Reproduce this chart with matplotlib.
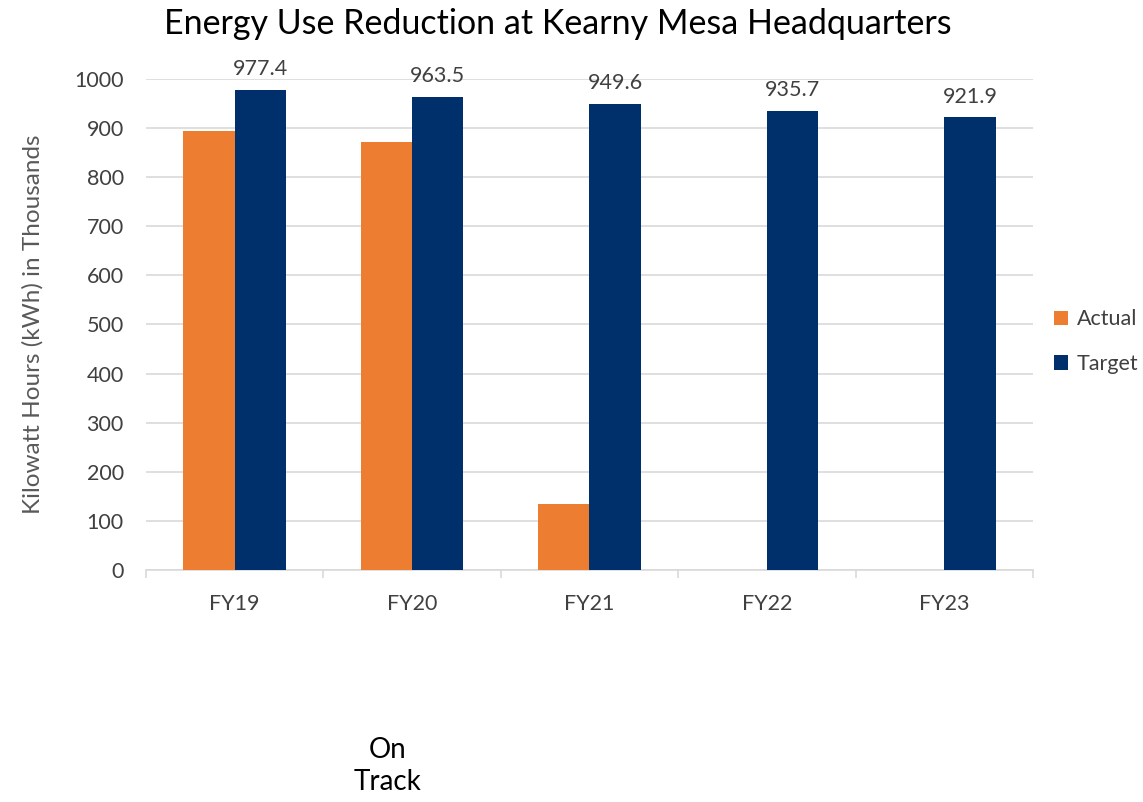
import numpy as np
import matplotlib.pyplot as plt

years = ["FY19", "FY20", "FY21", "FY22", "FY23"]
actual = [894, 872, 134, 0, 0]
target = [977.4, 963.5, 949.6, 935.7, 921.9]

plt.rcParams['font.family'] = ['Lato', 'DejaVu Sans']

fig = plt.figure(figsize=(11.43, 8.02), dpi=100)
ax = fig.add_axes([0.1277, 0.2893, 0.776, 0.6122])

x = np.arange(len(years))
w = 0.29
ax.bar(x - w/2, actual, w, color="#ED7D31", label="Actual", zorder=3)
bars = ax.bar(x + w/2, target, w, color="#00306B", label="Target", zorder=3)
for b, v in zip(bars, target):
    ax.text(b.get_x() + b.get_width()/2, v + 22, f"{v:.1f}", ha="center", va="bottom",
            fontsize=15.5, color="#404040")

ax.set_xlim(-0.5, len(years) - 0.5)
ax.set_ylim(0, 1000)
ax.set_yticks(np.arange(0, 1001, 100))
ax.yaxis.grid(True, color="#D9D9D9", linewidth=1.2, zorder=0)
ax.set_xticks(x)
ax.set_xticklabels(years)
ax.set_xticks(np.arange(-0.5, len(years)), minor=True)
ax.tick_params(axis="x", which="major", length=0, pad=17, labelsize=15.5, labelcolor="#404040")
ax.tick_params(axis="x", which="minor", length=6, color="#D9D9D9", width=1.2)
ax.tick_params(axis="y", length=0, pad=16, labelsize=15.5, labelcolor="#404040")
for s in ["top", "right", "left"]:
    ax.spines[s].set_visible(False)
ax.spines["bottom"].set_color("#D9D9D9")
ax.spines["bottom"].set_linewidth(1.2)

ax.set_ylabel("Kilowatt Hours (kWh) in Thousands", fontsize=17.5, color="#595959", labelpad=22)
fig.suptitle("Energy Use Reduction at Kearny Mesa Headquarters", x=0.488, y=0.99,
             fontsize=24.5, color="#000000", va="top")

ax.legend(loc="center left", bbox_to_anchor=(1.0, 0.465), frameon=False, fontsize=15.5,
          handlelength=0.65, handleheight=0.65, labelcolor="#404040", labelspacing=1.15,
          handletextpad=0.4, borderaxespad=0.6)

fig.text(0.339, 0.045, "On\nTrack", ha="center", va="center", fontsize=20, linespacing=1.3)

fig.savefig("out.png", dpi=100)
